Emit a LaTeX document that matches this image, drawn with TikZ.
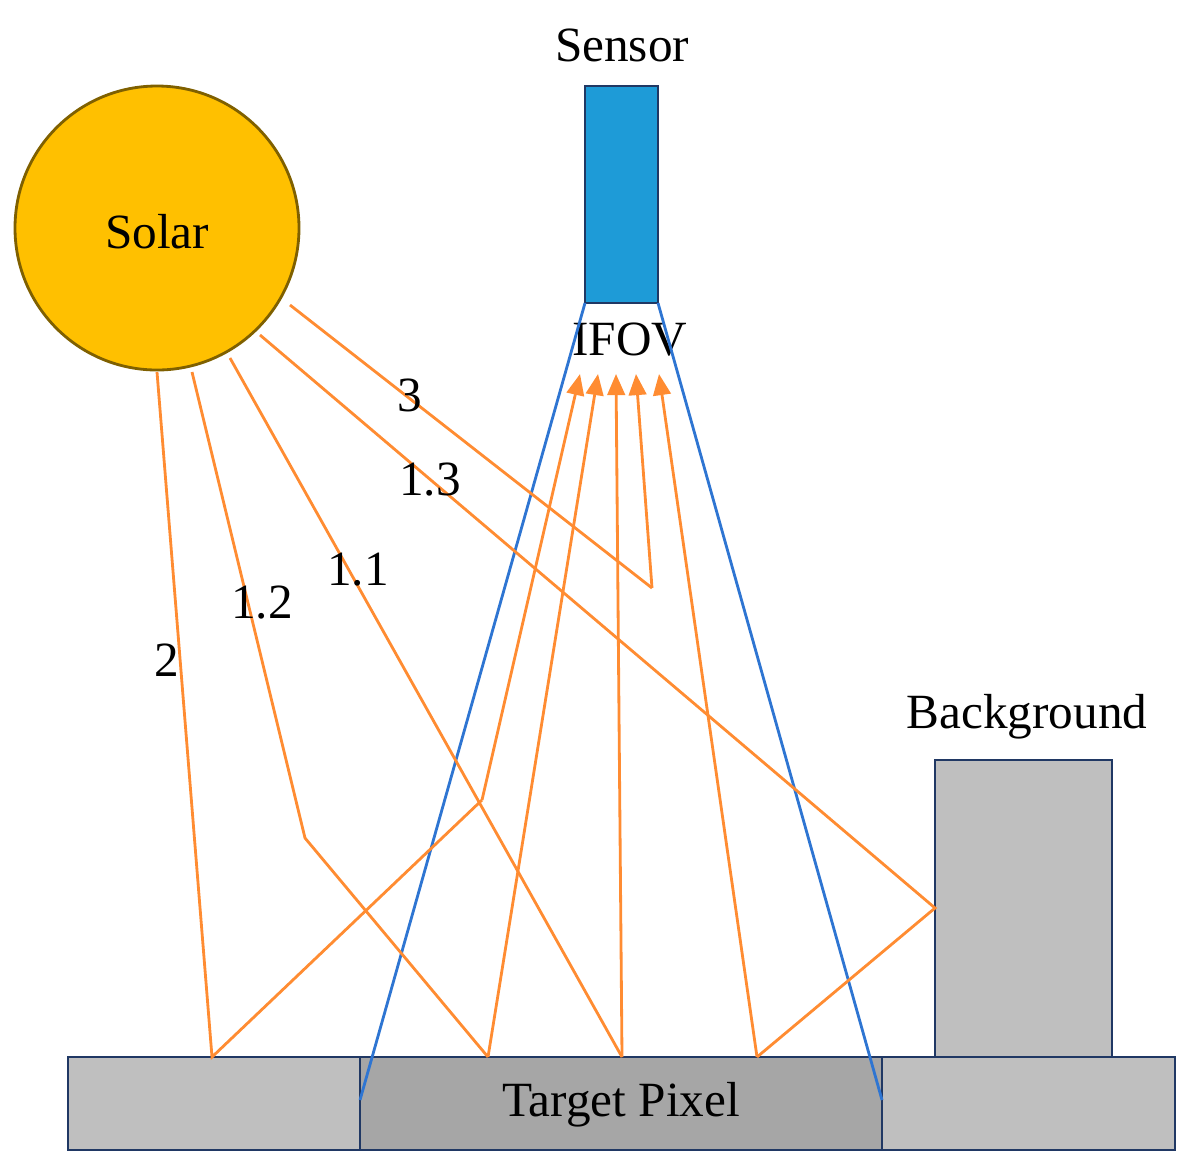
\documentclass[tikz,border=0pt]{standalone}
\usepackage{fontspec}
\setmainfont{Liberation Serif}
\usetikzlibrary{arrows.meta}
\definecolor{sunfill}{HTML}{FFC000}
\definecolor{sunline}{HTML}{7F6000}
\definecolor{sensorfill}{HTML}{1E9BD7}
\definecolor{boxline}{HTML}{203864}
\definecolor{groundfill}{HTML}{BFBFBF}
\definecolor{pixelfill}{HTML}{A6A6A6}
\definecolor{ray}{HTML}{FF8C32}
\definecolor{fov}{HTML}{2E75D2}
\tikzset{
  lbl/.style={font=\fontsize{14}{16}\selectfont},
  ground/.style={draw=boxline,thick,fill=groundfill},
  beam/.style={ray,thick},
  arr/.style={beam,-{Triangle[width=5pt,length=6pt]}}
}
\begin{document}
\begin{tikzpicture}[x=0.01cm,y=-0.01cm]
    \useasboundingbox (0,0) rectangle (1201,1172);
    % ground
    \node[ground,minimum width=292\pgflinewidth,inner sep=0,anchor=north west] at (68,1057) {};
    \fill[groundfill,draw=boxline,thick] (68,1057) rectangle (360,1150);
    \fill[pixelfill,draw=boxline,thick] (360,1057) rectangle (882,1150);
    \fill[groundfill,draw=boxline,thick] (882,1057) rectangle (1175,1150);
    \node[lbl] (pixel) at (621,1105) {Target Pixel};
    \fill[groundfill,draw=boxline,thick] (935,760) rectangle (1112,1057);
    \node[lbl] (bg) at (1027,717) {Background};
    % sensor
    \fill[sensorfill,draw=boxline,thick] (585,86) rectangle (658,303);
    \node[lbl] (sensor) at (622,45) {Sensor};
    \node[lbl] (ifov) at (630,340) {IFOV};
    \draw[fov,thick] (585,303) -- (360,1100);
    \draw[fov,thick] (658,303) -- (882,1100);
    % sun
    \filldraw[fill=sunfill,draw=sunline,thick] (157,228) circle (142);
    \node[lbl] (solar) at (157,232) {Solar};
    % rays
    \draw[beam] (157,372) -- (212,1057) -- (482,800);
    \draw[arr] (482,800) -- (580,374);
    \draw[beam] (192,372) -- (305,838) -- (488,1057);
    \draw[arr] (488,1057) -- (598,374);
    \draw[beam] (230,358) -- (622,1057);
    \draw[arr] (622,1057) -- (616,374);
    \draw[beam] (260,335) -- (935,908) -- (757,1057);
    \draw[arr] (757,1057) -- (659,374);
    \draw[beam] (290,305) -- (652,588);
    \draw[arr] (652,588) -- (636,374);
    % labels
    \node[lbl] (l3) at (410,395) {3};
    \node[lbl] (l13) at (430,480) {1.3};
    \node[lbl] (l11) at (358,570) {1.1};
    \node[lbl] (l12) at (262,603) {1.2};
    \node[lbl] (l2) at (167,660) {2};
\end{tikzpicture}
\end{document}
